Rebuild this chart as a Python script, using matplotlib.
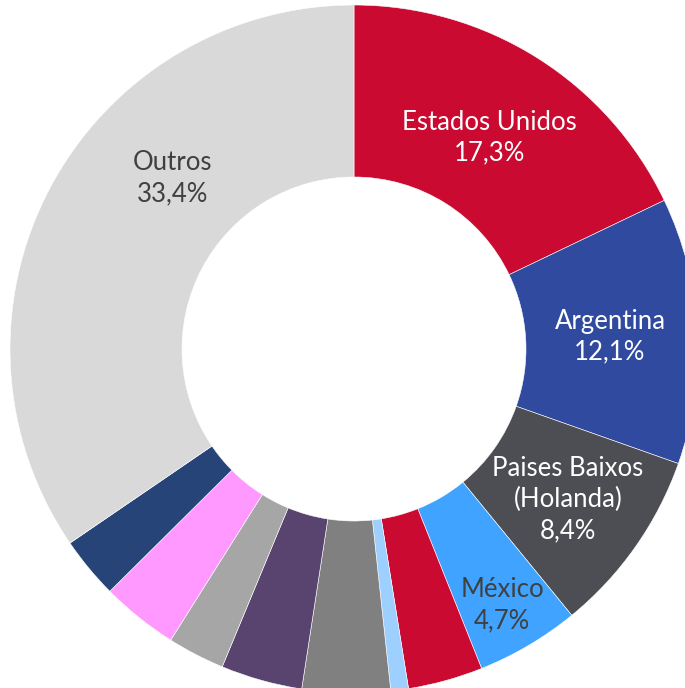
import numpy as np
import matplotlib
matplotlib.use("Agg")
import matplotlib.pyplot as plt

# Data (percent shares, clockwise from top)
categories = ["Estados Unidos", "Argentina", "Paises Baixos\n(Holanda)", "México",
              "Outro 1", "Outro 2", "Outro 3", "Outro 4", "Outro 5", "Outro 6", "Outro 7",
              "Outros"]
values = [17.3, 12.1, 8.4, 4.7, 3.4, 0.8, 4.0, 3.7, 2.6, 3.5, 2.8, 33.4]
show_label = [True, True, True, True, False, False, False, False, False, False, False, True]

colors = ["#CA0A30", "#2F4A9E", "#4D4E53", "#3FA3FF", "#CA0A30", "#9DCFFF",
          "#808080", "#594470", "#A6A6A6", "#FF99FF", "#264478", "#D9D9D9"]
text_colors = {"Estados Unidos": "white", "Argentina": "white",
               "Paises Baixos\n(Holanda)": "white", "México": "#404040", "Outros": "#404040"}
# label placement (radius fraction, angle offset in degrees)
label_pos = {"Estados Unidos": (0.73, 0.5), "Argentina": (0.745, 0.3),
             "Paises Baixos\n(Holanda)": (0.76, 0.0), "México": (0.86, 0.5),
             "Outros": (0.725, 15.5)}

plt.rcParams['font.family'] = ['Lato', 'DejaVu Sans']

fig = plt.figure(figsize=(6.85, 6.88), dpi=100)
ax = fig.add_axes([0, 0, 1, 1])
wedges, _ = ax.pie(values, colors=colors, startangle=90, counterclock=False,
                   radius=1.0, wedgeprops=dict(width=0.5, edgecolor="white", linewidth=0.4))

for w, cat, val, show in zip(wedges, categories, values, show_label):
    if not show:
        continue
    r, off = label_pos[cat]
    mid = (w.theta1 + w.theta2) / 2.0 - off
    x = r * np.cos(np.deg2rad(mid))
    y = r * np.sin(np.deg2rad(mid))
    txt = f"{cat}\n{val:.1f}%".replace(".", ",")
    ax.text(x, y, txt, ha="center", va="center", fontsize=18.5,
            color=text_colors[cat], linespacing=1.3)

ax.set_xlim(-354 / 344, (685 - 354) / 344)
ax.set_ylim(-(688 - 349) / 344, 349 / 344)
ax.set_aspect("auto")
ax.axis("off")
fig.savefig("out.png", dpi=100)
